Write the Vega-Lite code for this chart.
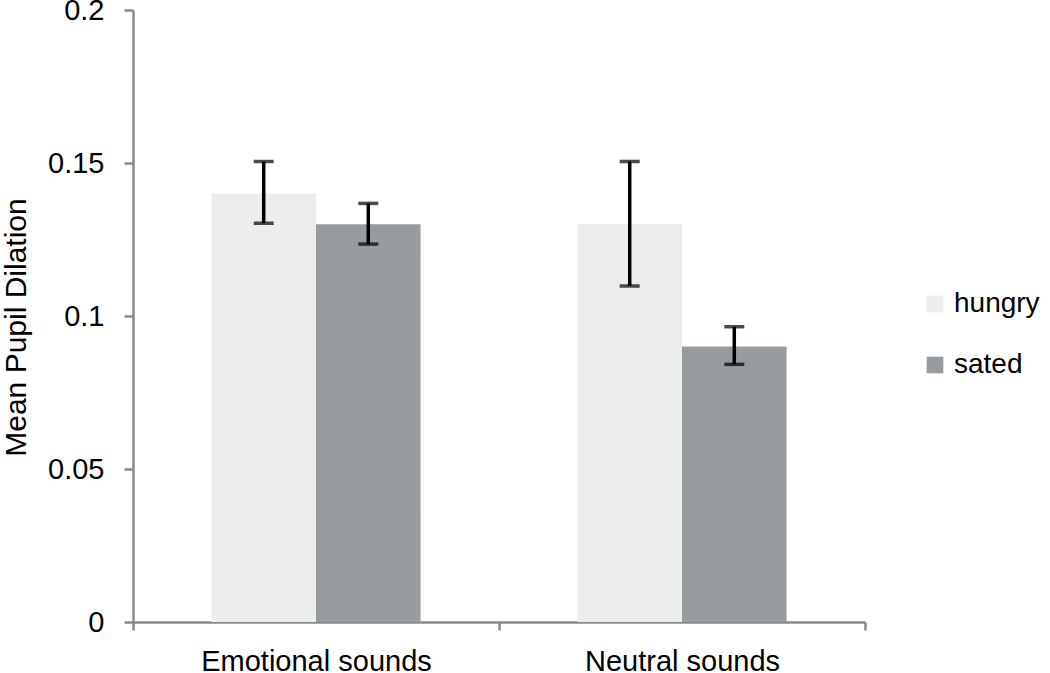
{
  "$schema": "https://vega.github.io/schema/vega-lite/v6.json",
  "width": 732,
  "height": 612,
  "autosize": "none",
  "padding": {"left": 133, "top": 10, "right": 185, "bottom": 51},
  "background": "white",
  "data": {
    "values": [
      {"sound": "Emotional sounds", "state": "hungry", "mean": 0.14, "lo": 0.1303, "hi": 0.1505},
      {"sound": "Emotional sounds", "state": "sated", "mean": 0.13, "lo": 0.1235, "hi": 0.1368},
      {"sound": "Neutral sounds", "state": "hungry", "mean": 0.13, "lo": 0.1098, "hi": 0.1505},
      {"sound": "Neutral sounds", "state": "sated", "mean": 0.09, "lo": 0.0842, "hi": 0.0965}
    ]
  },
  "config": {
    "view": {"stroke": null},
    "font": "Liberation Sans"
  },
  "encoding": {
    "x": {
      "field": "sound", "type": "nominal",
      "scale": {"paddingInner": 0, "paddingOuter": 0},
      "axis": {
        "title": null, "labelAngle": 0, "labelFontSize": 29, "labelColor": "black",
        "labelLimit": 0, "labelPadding": 17, "domainColor": "#878b8c", "domainWidth": 2.5,
        "tickColor": "#878b8c", "tickWidth": 2.5, "tickSize": 8, "tickBand": "extent"
      }
    },
    "xOffset": {"field": "state", "type": "nominal", "scale": {"paddingInner": 0, "paddingOuter": 0.75}}
  },
  "layer": [
    {
      "mark": {"type": "bar"},
      "encoding": {
        "y": {
          "field": "mean", "type": "quantitative",
          "scale": {"domain": [0, 0.2], "nice": false},
          "axis": {
            "values": [0, 0.05, 0.1, 0.15, 0.2], "format": ".2~f", "grid": false,
            "title": "Mean Pupil Dilation", "titleFontSize": 30, "titleFontWeight": "normal",
            "titleColor": "black", "titleX": -117, "titleY": 317, "titleAngle": 270,
            "titleAlign": "center", "titleBaseline": "middle", "titleLimit": 0,
            "labelFontSize": 29, "labelColor": "black", "labelPadding": 20,
            "domainColor": "#878b8c", "domainWidth": 2.5, "tickColor": "#878b8c",
            "tickWidth": 2.5, "tickSize": 9
          }
        },
        "color": {
          "field": "state", "type": "nominal",
          "scale": {"domain": ["hungry", "sated"], "range": ["#eceeed", "#999c9e"]},
          "legend": {
            "title": null, "orient": "none", "legendX": 788, "legendY": 280,
            "symbolType": "square", "symbolSize": 280, "symbolStrokeWidth": 0,
            "labelFontSize": 28, "labelColor": "black", "labelOffset": 5, "labelLimit": 0,
            "rowPadding": 33
          }
        }
      }
    },
    {
      "mark": {"type": "rule", "color": "black", "strokeWidth": 3.5},
      "encoding": {
        "y": {"field": "lo", "type": "quantitative"},
        "y2": {"field": "hi"}
      }
    },
    {
      "mark": {"type": "tick", "color": "black", "thickness": 3.5, "size": 20},
      "encoding": {"y": {"field": "lo", "type": "quantitative"}}
    },
    {
      "mark": {"type": "tick", "color": "black", "thickness": 3.5, "size": 20},
      "encoding": {"y": {"field": "hi", "type": "quantitative"}}
    }
  ]
}
